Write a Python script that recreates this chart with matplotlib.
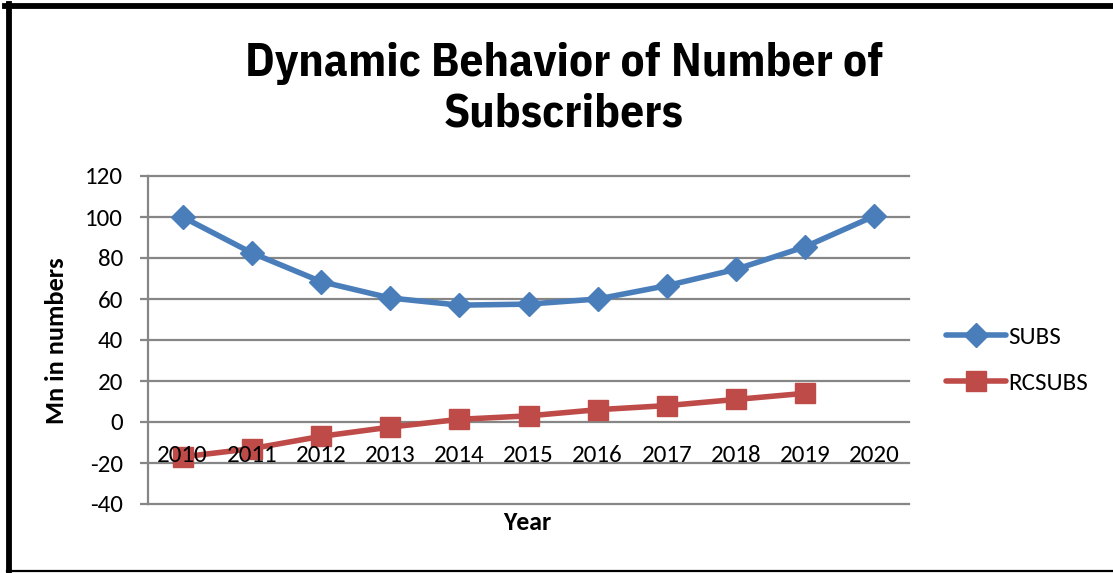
import matplotlib
matplotlib.use("Agg")
import matplotlib.pyplot as plt
from matplotlib.lines import Line2D

years = ["2010", "2011", "2012", "2013", "2014", "2015",
         "2016", "2017", "2018", "2019", "2020"]
subs = [100, 82.5, 68.5, 60.5, 57, 57.5, 60, 66.5, 74.5, 85.5, 100.5]
rcsubs = [-17, -13, -7, -2.5, 1.3, 3, 6, 8, 11, 14]
y_ticks = [-40, -20, 0, 20, 40, 60, 80, 100, 120]

title = "Dynamic Behavior of Number of\nSubscribers"
y_label = "Mn in numbers"
x_label = "Year"

BLUE = "#4A7EBB"
RED = "#BE4B48"
GRID = "#868686"

BODY = ["Carlito", "Lato", "DejaVu Sans"]
NARROW = ["IBM Plex Sans Condensed", "Roboto Condensed", "DejaVu Sans"]

W, H = 1113, 573
fig = plt.figure(figsize=(W / 100, H / 100), dpi=100)
fig.patch.set_facecolor("white")

ax = fig.add_axes([148 / W, 1 - 504 / H, (909 - 148) / W, (504 - 176) / H])

x = list(range(len(years)))
ax.plot(x, subs, color=BLUE, lw=4, marker="D", ms=12, zorder=3,
        solid_capstyle="round", label="SUBS")
ax.plot(x[:len(rcsubs)], rcsubs, color=RED, lw=4, marker="s", ms=14,
        zorder=3, solid_capstyle="round", label="RCSUBS")

ax.set_xlim(-0.5, len(years) - 0.5)
ax.set_ylim(-40, 120)
ax.set_yticks(y_ticks)
ax.set_yticklabels([str(v) for v in y_ticks])

# horizontal grid lines, drawn manually so the top and bottom ones are not clipped
for v in y_ticks:
    ax.axhline(v, color=GRID, lw=1.6, zorder=1, clip_on=False)

for s in ["top", "right", "bottom"]:
    ax.spines[s].set_visible(False)
ax.spines["left"].set_color(GRID)
ax.spines["left"].set_linewidth(1.6)

ax.tick_params(axis="y", length=6, width=1.6, color=GRID, pad=12,
               labelsize=18, labelcolor="black")
for lab in ax.get_yticklabels():
    lab.set_fontfamily(BODY)

# category labels sit just below the zero line
ax.set_xticks([])
for xi, yr in zip(x, years):
    ax.text(xi, -16.2, yr, ha="center", va="center",
            fontsize=18, family=BODY, color="black", zorder=4)

fig.text(564 / W, 1 - 89 / H, title, ha="center", va="center",
         fontsize=34, fontweight="bold", family=NARROW, linespacing=1.22)

fig.text(57 / W, 1 - 341 / H, y_label, rotation=90, ha="center", va="center",
         fontsize=19, fontweight="bold", family=BODY)
fig.text(527 / W, 1 - 523 / H, x_label, ha="center", va="center",
         fontsize=18.5, fontweight="bold", family=BODY)

leg = fig.legend(loc="center left", bbox_to_anchor=(946 / W, 1 - 360 / H),
                 frameon=False, prop={"family": BODY, "size": 18},
                 handlelength=2.4, handletextpad=0.1, labelspacing=1.0,
                 borderaxespad=0, borderpad=0)

# figure border: heavy top and left edges, thin bottom edge
fig.add_artist(Line2D([5 / W, 1], [1 - 6 / H, 1 - 6 / H], color="black",
                      lw=4.2, transform=fig.transFigure))
fig.add_artist(Line2D([9 / W, 9 / W], [1 - 4 / H, 1 - 571 / H], color="black",
                      lw=4.2, transform=fig.transFigure))
fig.add_artist(Line2D([7 / W, 1], [1 - 571 / H, 1 - 571 / H], color="black",
                      lw=1.6, transform=fig.transFigure))

fig.savefig("out.png", dpi=100)
